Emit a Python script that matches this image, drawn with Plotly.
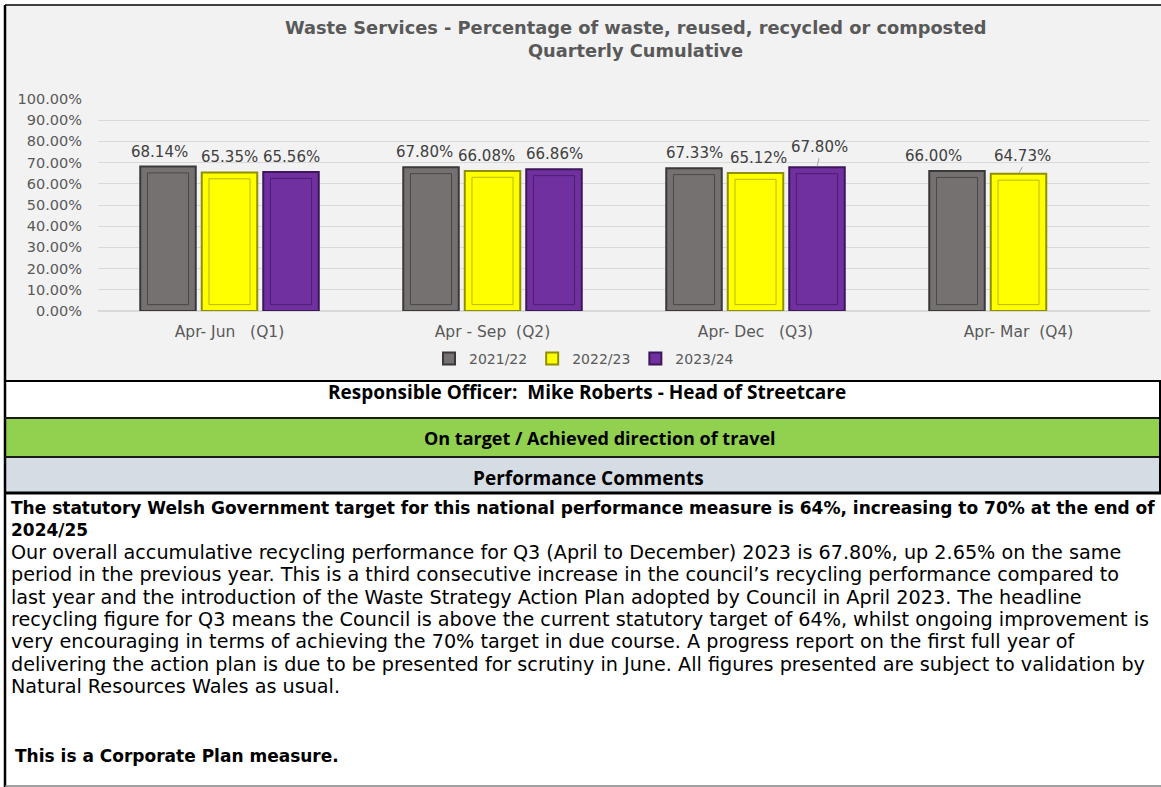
import plotly.graph_objects as go

# ---- data ---------------------------------------------------------------
categories = [
    "Apr- Jun\u00a0\u00a0\u00a0(Q1)",
    "Apr - Sep\u00a0\u00a0(Q2)",
    "Apr- Dec\u00a0\u00a0\u00a0(Q3)",
    "Apr- Mar\u00a0\u00a0(Q4)",
]
years = ["2021/22", "2022/23", "2023/24"]
pct_2021_22 = [68.14, 67.80, 67.33, 66.00]
pct_2022_23 = [65.35, 66.08, 65.12, 64.73]
pct_2023_24 = [65.56, 66.86, 67.80, None]
y_ticks = [0, 10, 20, 30, 40, 50, 60, 70, 80, 90, 100]

title_lines = [
    "Waste Services - Percentage of waste, reused, recycled or composted",
    "Quarterly Cumulative",
]
officer_text = "Responsible Officer:\u00a0\u00a0Mike Roberts - Head of Streetcare"
status_text = "On target / Achieved direction of travel"
comments_header = "Performance Comments"
comment_lines = [
    ("The statutory Welsh Government target for this national performance measure is 64%, increasing to 70% at the end of", True),
    ("2024/25", True),
    ("Our overall accumulative recycling performance for Q3 (April to December) 2023 is 67.80%, up 2.65% on the same", False),
    ("period in the previous year. This is a third consecutive increase in the council\u2019s recycling performance compared to", False),
    ("last year and the introduction of the Waste Strategy Action Plan adopted by Council in April 2023. The headline", False),
    ("recycling figure for Q3 means the Council is above the current statutory target of 64%, whilst ongoing improvement is", False),
    ("very encouraging in terms of achieving the 70% target in due course. A progress report on the first full year of", False),
    ("delivering the action plan is due to be presented for scrutiny in June. All figures presented are subject to validation by", False),
    ("Natural Resources Wales as usual.", False),
]
footer_text = "This is a Corporate Plan measure."

# ---- page geometry (pixels) ---------------------------------------------
FIG_W, FIG_H = 1161, 787
PLOT_L, PLOT_R, PLOT_T, PLOT_B = 98, 1150, 99, 311
CAT_PX = (PLOT_R - PLOT_L) / len(categories)


def fx(px):
    return (px - PLOT_L) / (PLOT_R - PLOT_L)


def fy(py):
    return (PLOT_B - py) / (PLOT_B - PLOT_T)


GREY_TXT = "#595959"
SLOT_PX = 61.5
slot = SLOT_PX / CAT_PX
bar_w = 55.5 / CAT_PX
inner_w = bar_w * 0.74
inset = 3.0

series = [
    (years[0], pct_2021_22, "#767171", "#3a3838", "#4a4747"),
    (years[1], pct_2022_23, "#ffff00", "#8f8f00", "#b8b800"),
    (years[2], pct_2023_24, "#7030a0", "#3d1759", "#4c1f70"),
]

fig = go.Figure()
for i, (name, vals, fill, edge, inner) in enumerate(series):
    centre = (i - 1) * slot
    fig.add_trace(
        go.Bar(
            x=categories,
            y=vals,
            name=name,
            width=bar_w,
            offset=centre - bar_w / 2,
            marker={"color": fill, "line": {"color": edge, "width": 2}},
            hoverinfo="x+y+name",
        )
    )
    # bevel-like inner outline
    fig.add_trace(
        go.Bar(
            x=categories,
            y=[v - 2 * inset if v is not None else None for v in vals],
            base=inset,
            width=inner_w,
            offset=centre - inner_w / 2,
            marker={"color": "rgba(0,0,0,0)", "line": {"color": inner, "width": 1}},
            showlegend=False,
            hoverinfo="skip",
        )
    )

# data labels: hand-placed in the original, a couple on leader lines
label_nudge = {(0, 0): -9, (0, 1): -7, (1, 1): -6, (1, 2): 3, (0, 3): -24}
leader = {(2, 2): (2, -9), (1, 3): (4, -7)}
label_font = {"family": "DejaVu Sans", "size": 15, "color": "#404040"}
annotations = []
for i, (name, vals, *_rest) in enumerate(series):
    for j, v in enumerate(vals):
        if v is None:
            continue
        xs = (i - 1) * SLOT_PX
        if (i, j) in leader:
            ax, ay = leader[(i, j)]
            annotations.append(dict(
                x=categories[j], y=v, xref="x", yref="y", xshift=xs,
                text=f"{v:.2f}%", showarrow=True, arrowhead=0, arrowwidth=1,
                arrowcolor="#a6a6a6", ax=ax, ay=ay, standoff=1,
                font=label_font, yanchor="bottom",
            ))
        else:
            annotations.append(dict(
                x=categories[j], y=v, xref="x", yref="y",
                xshift=xs + label_nudge.get((i, j), 0), yshift=4,
                text=f"{v:.2f}%", showarrow=False, yanchor="bottom", font=label_font,
            ))

# title
for k, line in enumerate(title_lines):
    annotations.append(dict(
        x=fx(635), y=fy(27.5 + 23 * k), xref="paper", yref="paper",
        text=f"<b>{line}</b>", showarrow=False, xanchor="center", yanchor="middle",
        font={"family": "DejaVu Sans", "size": 17.8, "color": GREY_TXT},
    ))

# table rows
for text, cx, cy, size in [
    (officer_text, 587, 392, 19),
    (status_text, 600, 438, 18),
    (comments_header, 588, 478, 19),
]:
    annotations.append(dict(
        x=fx(cx), y=fy(cy), xref="paper", yref="paper", text=f"<b>{text}</b>",
        showarrow=False, xanchor="center", yanchor="middle",
        font={"family": "Open Sans", "size": size, "color": "#000000"},
    ))

for k, (line, bold) in enumerate(comment_lines):
    annotations.append(dict(
        x=fx(9), y=fy(508 + 22.3 * k), xref="paper", yref="paper",
        text=f"<b>{line}</b>" if bold else line, showarrow=False,
        xanchor="left", yanchor="middle",
        font={"family": "DejaVu Sans", "size": 17 if bold else 19.2, "color": "#000000"},
    ))
annotations.append(dict(
    x=fx(13), y=fy(756), xref="paper", yref="paper", text=f"<b>{footer_text}</b>",
    showarrow=False, xanchor="left", yanchor="middle",
    font={"family": "DejaVu Sans", "size": 17, "color": "#000000"},
))


def rect(x0, y0, x1, y1, fill):
    return dict(type="rect", xref="paper", yref="paper", x0=fx(x0), x1=fx(x1),
                y0=fy(y0), y1=fy(y1), fillcolor=fill, line={"width": 0}, layer="below")


def seg(x0, y0, x1, y1, color, width):
    return dict(type="line", xref="paper", yref="paper", x0=fx(x0), x1=fx(x1),
                y0=fy(y0), y1=fy(y1), line={"color": color, "width": width}, layer="above")


shapes = [
    rect(5, 5, 1161, 381, "#f2f2f2"),
    rect(5, 418, 1161, 457, "#92d050"),
    rect(5, 457, 1161, 493, "#d6dce4"),
    seg(5, 5, 1161, 5, "#404040", 2),
    seg(5, 5, 5, 787, "#000000", 2.5),
    seg(5, 381, 1161, 381, "#000000", 2),
    seg(5, 418, 1161, 418, "#1a1a1a", 2),
    seg(5, 457, 1161, 457, "#1a1a1a", 2),
    seg(5, 493, 1161, 493, "#000000", 3),
    seg(1160, 381, 1160, 493, "#000000", 2),
    seg(5, 786, 1161, 786, "#808080", 1.5),
]

fig.update_layout(
    width=FIG_W,
    height=FIG_H,
    margin={"l": PLOT_L, "r": FIG_W - PLOT_R, "t": PLOT_T, "b": FIG_H - PLOT_B, "pad": 0},
    barmode="overlay",
    paper_bgcolor="#ffffff",
    plot_bgcolor="rgba(0,0,0,0)",
    font={"family": "DejaVu Sans", "color": GREY_TXT},
    showlegend=True,
    legend={
        "orientation": "h", "x": fx(584), "xanchor": "center", "y": fy(359), "yanchor": "middle",
        "font": {"family": "DejaVu Sans", "size": 14, "color": GREY_TXT},
        "bgcolor": "rgba(0,0,0,0)", "itemwidth": 30, "tracegroupgap": 0,
    },
    annotations=annotations,
    shapes=shapes,
)
fig.update_xaxes(
    showgrid=False, showline=False, zeroline=False, ticks="",
    tickfont={"family": "DejaVu Sans", "size": 15.5, "color": GREY_TXT},
    ticklabelstandoff=9,
)
fig.update_yaxes(
    range=[0, 100], tickvals=y_ticks, ticktext=[f"{t:.2f}%" for t in y_ticks],
    showgrid=True, gridcolor="#d9d9d9", gridwidth=1, zeroline=True, zerolinecolor="#d9d9d9",
    showline=False, ticks="", ticklabelstandoff=15,
    tickfont={"family": "DejaVu Sans", "size": 14.5, "color": GREY_TXT},
)

fig.write_html(
    "out.html",
    config={"displayModeBar": False},
    post_script="document.body.style.margin='0';",
)
